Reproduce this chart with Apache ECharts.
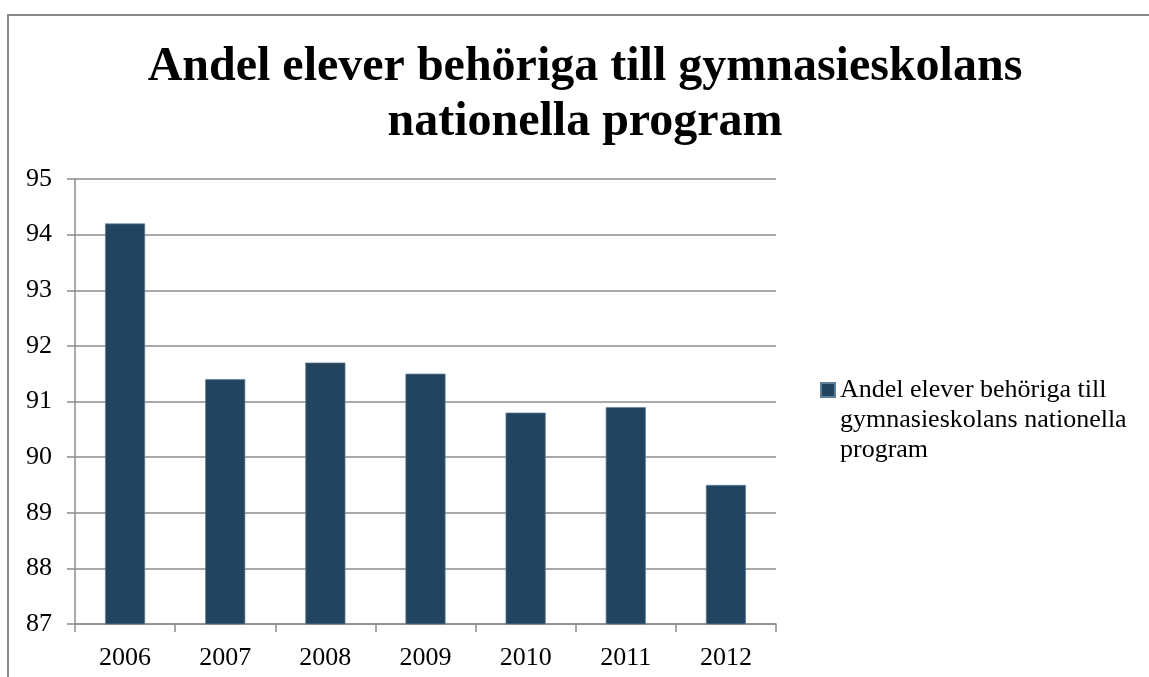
<!DOCTYPE html>
<html>
<head>
<meta charset="utf-8">
<script src="https://cdn.jsdelivr.net/npm/echarts@6/dist/echarts.min.js"></script>
<style>
html,body{margin:0;padding:0;background:#fff;}
#chart{width:1149px;height:677px;}
</style>
</head>
<body>
<div id="chart"></div>
<script>
const titleText = 'Andel elever behöriga till gymnasieskolans\nnationella program';
const seriesName = 'Andel elever behöriga till gymnasieskolans nationella program';
const legendText = 'Andel elever behöriga till\ngymnasieskolans nationella\nprogram';
const years = ['2006', '2007', '2008', '2009', '2010', '2011', '2012'];
const values = [94.2, 91.4, 91.7, 91.5, 90.8, 90.9, 89.5];

const serif = '"Liberation Serif", "Times New Roman", serif';
const chart = echarts.init(document.getElementById('chart'));
chart.setOption({
  animation: false,
  backgroundColor: '#ffffff',
  title: {
    text: titleText,
    left: 585,
    top: 40,
    padding: 0,
    textAlign: 'center',
    textStyle: {
      fontFamily: serif,
      fontWeight: 'bold',
      fontSize: 48,
      lineHeight: 55,
      color: '#000'
    }
  },
  graphic: [{
    type: 'rect',
    shape: { x: 8, y: 15, width: 2000, height: 2000 },
    style: { fill: 'none', stroke: '#888888', lineWidth: 2 },
    silent: true,
    z: -10
  }],
  legend: {
    left: 820,
    top: 374,
    padding: 0,
    itemWidth: 14,
    itemHeight: 90,
    itemGap: 5,
    icon: 'path://M0,8L14,8L14,22L0,22Z M0,0L0,0Z M14,90L14,90Z',
    formatter: function () { return legendText; },
    textStyle: {
      fontFamily: serif,
      fontSize: 26,
      lineHeight: 30,
      color: '#000'
    },
    data: [seriesName]
  },
  grid: {
    left: 75,
    right: 373,
    top: 179,
    bottom: 53,
    containLabel: false
  },
  xAxis: {
    type: 'category',
    data: years,
    boundaryGap: true,
    axisLine: { show: true, lineStyle: { color: '#8c8c8c', width: 1.5 } },
    axisTick: { show: true, length: 8, alignWithLabel: false, lineStyle: { color: '#8c8c8c', width: 1.5 } },
    axisLabel: { margin: 21, fontFamily: serif, fontSize: 26, color: '#000' },
    splitLine: { show: false }
  },
  yAxis: {
    type: 'value',
    min: 87,
    max: 95,
    interval: 1,
    axisLine: { show: true, lineStyle: { color: '#8c8c8c', width: 1.5 } },
    axisTick: { show: true, length: 8, lineStyle: { color: '#8c8c8c', width: 1.5 } },
    axisLabel: { margin: 23, fontFamily: serif, fontSize: 26, color: '#000' },
    splitLine: { show: true, lineStyle: { color: '#8c8c8c', width: 1.5 } }
  },
  series: [{
    name: seriesName,
    type: 'bar',
    data: values,
    barWidth: '40%',
    itemStyle: { color: '#22445f', borderColor: '#5f7f98', borderWidth: 0.7 }
  }]
});
</script>
</body>
</html>
